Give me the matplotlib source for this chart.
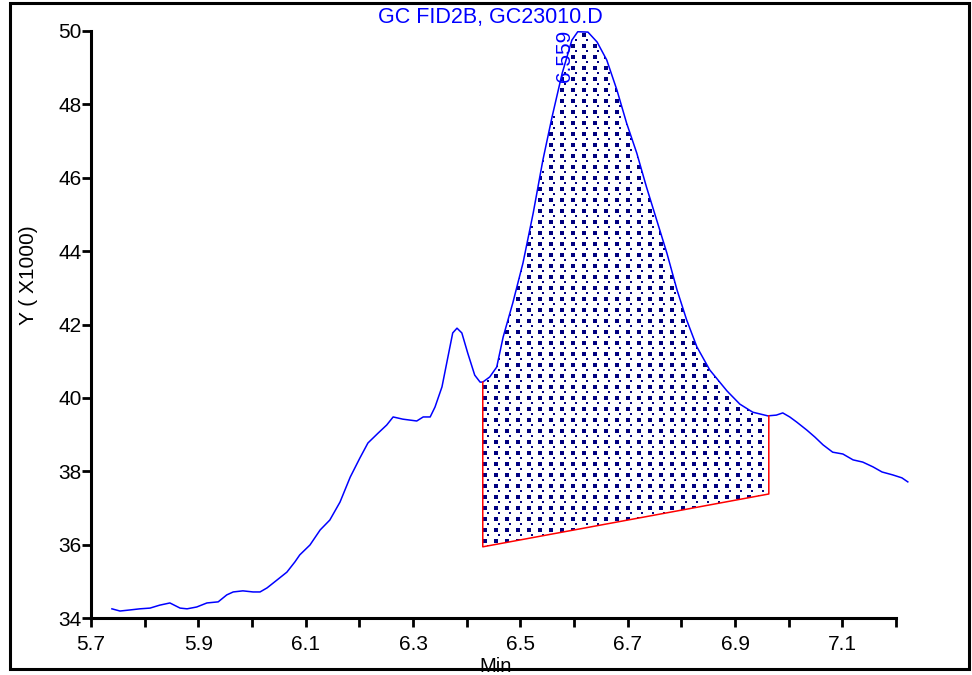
import matplotlib.pyplot as plt
import numpy as np
from matplotlib.patches import Rectangle, Polygon

plt.rcParams['font.family'] = ['Liberation Sans', 'DejaVu Sans']

# chromatogram trace (time in min, signal in x1000)
t = [5.739, 5.754, 5.773, 5.791, 5.810, 5.828, 5.847, 5.866, 5.879, 5.897,
     5.916, 5.937, 5.953, 5.965, 5.983, 6.002, 6.015, 6.028, 6.047, 6.065,
     6.080, 6.089, 6.108, 6.127, 6.145, 6.164, 6.183, 6.201, 6.216, 6.235,
     6.251, 6.263, 6.281, 6.307, 6.319, 6.332, 6.341, 6.354, 6.365, 6.374,
     6.382, 6.391, 6.402, 6.415, 6.425, 6.430, 6.443, 6.456, 6.468, 6.486,
     6.505, 6.524, 6.542, 6.559, 6.578, 6.596, 6.607, 6.626, 6.643, 6.661,
     6.680, 6.698, 6.717, 6.735, 6.754, 6.773, 6.792, 6.810, 6.829, 6.853,
     6.885, 6.909, 6.933, 6.961, 6.977, 6.989, 7.002, 7.015, 7.034, 7.049,
     7.064, 7.082, 7.101, 7.120, 7.138, 7.157, 7.174, 7.194, 7.211, 7.222]
sig = [34.25, 34.19, 34.22, 34.25, 34.27, 34.35, 34.41, 34.27, 34.25, 34.30,
       34.41, 34.44, 34.63, 34.71, 34.74, 34.71, 34.71, 34.82, 35.04, 35.25,
       35.53, 35.72, 35.99, 36.40, 36.67, 37.16, 37.84, 38.36, 38.77, 39.04,
       39.26, 39.48, 39.42, 39.37, 39.48, 39.48, 39.75, 40.30, 41.11, 41.77,
       41.90, 41.77, 41.22, 40.62, 40.43, 40.43, 40.57, 40.84, 41.66, 42.59,
       43.68, 45.04, 46.48, 47.65, 48.85, 49.75, 49.98, 49.97, 49.70, 49.21,
       48.39, 47.49, 46.67, 45.75, 44.85, 43.95, 42.94, 42.12, 41.39, 40.76,
       40.19, 39.83, 39.61, 39.51, 39.53, 39.59, 39.48, 39.34, 39.12, 38.93,
       38.72, 38.52, 38.47, 38.31, 38.25, 38.12, 37.98, 37.90, 37.82, 37.71]

# integrated peak: baseline start/end
base_t = [6.430, 6.963]
base_y = [35.94, 37.38]
peak_rt = 6.559
peak_pos = (6.583, 48.6)

x_labels = [5.7, 5.9, 6.1, 6.3, 6.5, 6.7, 6.9, 7.1]
y_ticks = [34, 36, 38, 40, 42, 44, 46, 48, 50]

t = np.array(t)
sig = np.array(sig)

fig = plt.figure(figsize=(9.72, 6.75), dpi=100)
ax = fig.add_axes([91/972, 1-618/675, (896-91)/972, (618-31)/675])

# area between trace and baseline
t0, t1 = base_t
inside = (t > t0) & (t < t1)
ft = np.concatenate([[t0], t[inside], [t1]])
fy = np.interp(ft, t, sig)
fb = np.interp(ft, base_t, base_y)
area = Polygon(np.column_stack([np.r_[ft, ft[::-1]], np.r_[fy, fb[::-1]]]),
               facecolor='white', edgecolor='none')
ax.add_patch(area)

# dotted fill, staggered grid like the data system's pattern
dx, dy = 0.0205, 0.15
rows = np.arange(35.8, 50.2, dy)
for i, yy in enumerate(rows):
    xs = np.arange(t0 + (dx / 2 if i % 2 else 0.004), t1, dx)
    sc = ax.scatter(xs, np.full_like(xs, yy), marker='s',
                    s=7.5 if i % 2 == 0 else 4.5, color='#000080',
                    linewidths=0, zorder=2)
    sc.set_clip_path(area)

ax.plot(t, sig, color='#0000ff', lw=1.1, clip_on=False, zorder=3)
ax.plot([t0, t0, t1, t1], [fy[0], base_y[0], base_y[1], fy[-1]],
        color='red', lw=1.1, zorder=3)

ax.text(peak_pos[0], peak_pos[1], f'{peak_rt:.3f}', rotation=90,
        ha='center', va='bottom', color='#0000ff', fontsize=15)

ax.set_xlim(5.7, 7.2)
ax.set_ylim(34, 50)
ax.set_xticks(x_labels)
ax.set_xticklabels([f'{v:.1f}' for v in x_labels])
ax.set_xticks(np.round(np.arange(5.8, 7.25, 0.2), 1), minor=True)
ax.set_yticks(y_ticks)
ax.tick_params(axis='both', which='both', direction='out', length=6.5,
               width=2, labelsize=15)
ax.tick_params(axis='x', pad=6)
ax.tick_params(axis='y', pad=0)

for s in ['top', 'right']:
    ax.spines[s].set_visible(False)
for s in ['left', 'bottom']:
    ax.spines[s].set_linewidth(2.2)

fig.text(490/972, 1-18/675, 'GC FID2B, GC23010.D', color='#0000ff',
         fontsize=15.5, ha='center', va='center')
fig.text(28/972, 1-275/675, 'Y ( X1000)', rotation=90, fontsize=15,
         ha='center', va='center')
fig.text(496/972, 1-657/675, 'Min', fontsize=14.5, ha='center', va='top')

fig.add_artist(Rectangle((10/972, 1-669/675), 959/972, 666/675,
                         transform=fig.transFigure, fill=False,
                         edgecolor='black', lw=2.2, zorder=10))

fig.savefig('out.png', dpi=100)
